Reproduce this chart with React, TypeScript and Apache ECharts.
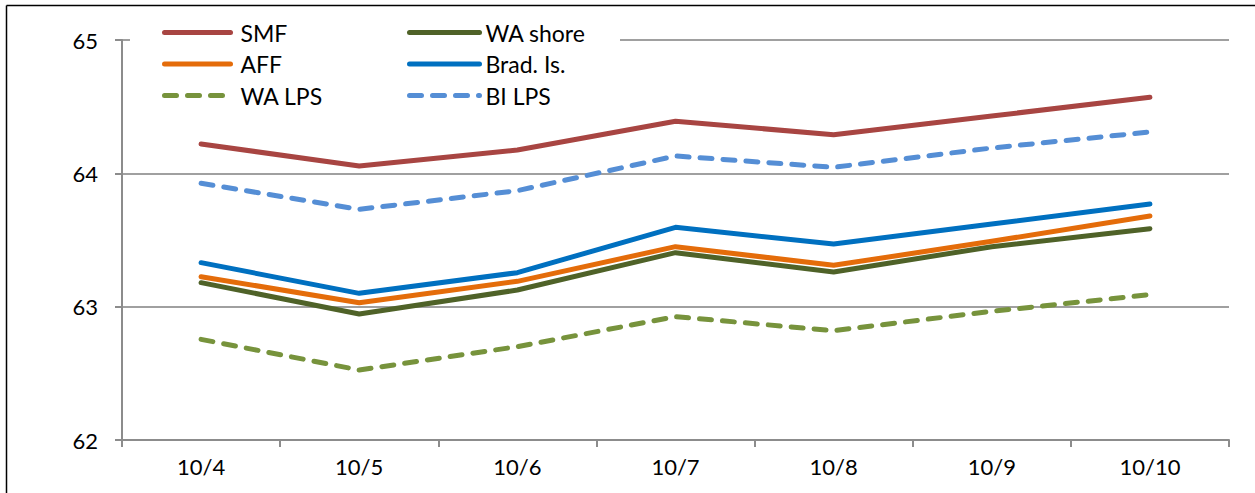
import React, { useEffect, useRef } from "react";
import * as echarts from "echarts";

const categories = ["10/4", "10/5", "10/6", "10/7", "10/8", "10/9", "10/10"];
const smf = [64.22, 64.055, 64.175, 64.39, 64.29, 64.43, 64.57];
const waShore = [63.18, 62.945, 63.125, 63.405, 63.26, 63.45, 63.585];
const aff = [63.225, 63.03, 63.19, 63.45, 63.31, 63.49, 63.68];
const bradIs = [63.33, 63.1, 63.255, 63.595, 63.47, 63.62, 63.77];
const waLps = [62.755, 62.525, 62.7, 62.925, 62.82, 62.965, 63.09];
const biLps = [63.925, 63.73, 63.87, 64.13, 64.045, 64.19, 64.31];
const yTicks = { min: 62, max: 65, interval: 1 };

const FONT = "Lato";

export default function App() {
  const ref = useRef<HTMLDivElement>(null);
  useEffect(() => {
    if (!ref.current) return;
    const chart = echarts.init(ref.current, undefined, { renderer: "svg" });
    const solid = (name: string, data: number[], color: string) => ({
      name,
      type: "line",
      data,
      symbol: "none",
      showSymbol: false,
      lineStyle: { color, width: 5, cap: "round", join: "round" },
      itemStyle: { color },
      z: 3,
    });
    const dashed = (name: string, data: number[], color: string) => ({
      name,
      type: "line",
      data,
      symbol: "none",
      showSymbol: false,
      lineStyle: { color, width: 5, type: [12, 11], cap: "round", join: "round" },
      itemStyle: { color },
      z: 3,
    });
    const legendText = { fontFamily: FONT, fontSize: 23, color: "#000" };
    const legendCommon = {
      orient: "vertical",
      top: 21,
      padding: 0,
      itemHeight: 14,
      itemGap: 8.5,
      itemStyle: { opacity: 0 },
      lineStyle: { width: 5, cap: "round" },
    };
    chart.setOption({
      animation: false,
      backgroundColor: "#fff",
      grid: { left: 122, right: 26, top: 40, bottom: 53, containLabel: false },
      graphic: [
        { type: "rect", z: 1, shape: { x: 130, y: 14, width: 490, height: 98 }, style: { fill: "#fff" } },
        { type: "line", z: 10, shape: { x1: 6.5, y1: 5.5, x2: 1255, y2: 5.5 }, style: { stroke: "#000", lineWidth: 1.5 } },
        { type: "line", z: 10, shape: { x1: 6.5, y1: 5.5, x2: 6.5, y2: 493 }, style: { stroke: "#000", lineWidth: 1.5 } },
      ],
      legend: [
        {
          ...legendCommon,
          left: 162,
          itemWidth: 66,
          data: ["SMF", "AFF", "WA LPS"],
          textStyle: { ...legendText, padding: [0, 0, 0, 5] },
        },
        {
          ...legendCommon,
          left: 407,
          itemWidth: 70,
          data: ["WA shore", "Brad. Is.", "BI LPS"],
          textStyle: { ...legendText, padding: [0, 0, 0, 1] },
        },
      ],
      xAxis: {
        type: "category",
        data: categories,
        boundaryGap: true,
        axisLine: { lineStyle: { color: "#8c8c8c", width: 2 } },
        axisTick: { show: true, length: 7, alignWithLabel: false, lineStyle: { color: "#8c8c8c", width: 2 } },
        axisLabel: { fontFamily: FONT, fontSize: 22, color: "#000", margin: 15 },
        splitLine: { show: false },
      },
      yAxis: {
        type: "value",
        min: yTicks.min,
        max: yTicks.max,
        interval: yTicks.interval,
        axisLine: { show: true, lineStyle: { color: "#8c8c8c", width: 2 } },
        axisTick: { show: true, length: 7, lineStyle: { color: "#8c8c8c", width: 2 } },
        axisLabel: { fontFamily: FONT, fontSize: 22, color: "#000", margin: 24 },
        splitLine: { show: true, lineStyle: { color: "#a0a0a0", width: 2 } },
      },
      series: [
        solid("SMF", smf, "#A84542"),
        solid("WA shore", waShore, "#4F6228"),
        solid("AFF", aff, "#E46C0A"),
        solid("Brad. Is.", bradIs, "#0070C0"),
        dashed("WA LPS", waLps, "#77933C"),
        dashed("BI LPS", biLps, "#558ED5"),
      ],
    });
    return () => chart.dispose();
  }, []);
  return (
    <div
      ref={ref}
      style={{ position: "absolute", left: 0, top: 0, width: 1255, height: 493 }}
    />
  );
}
